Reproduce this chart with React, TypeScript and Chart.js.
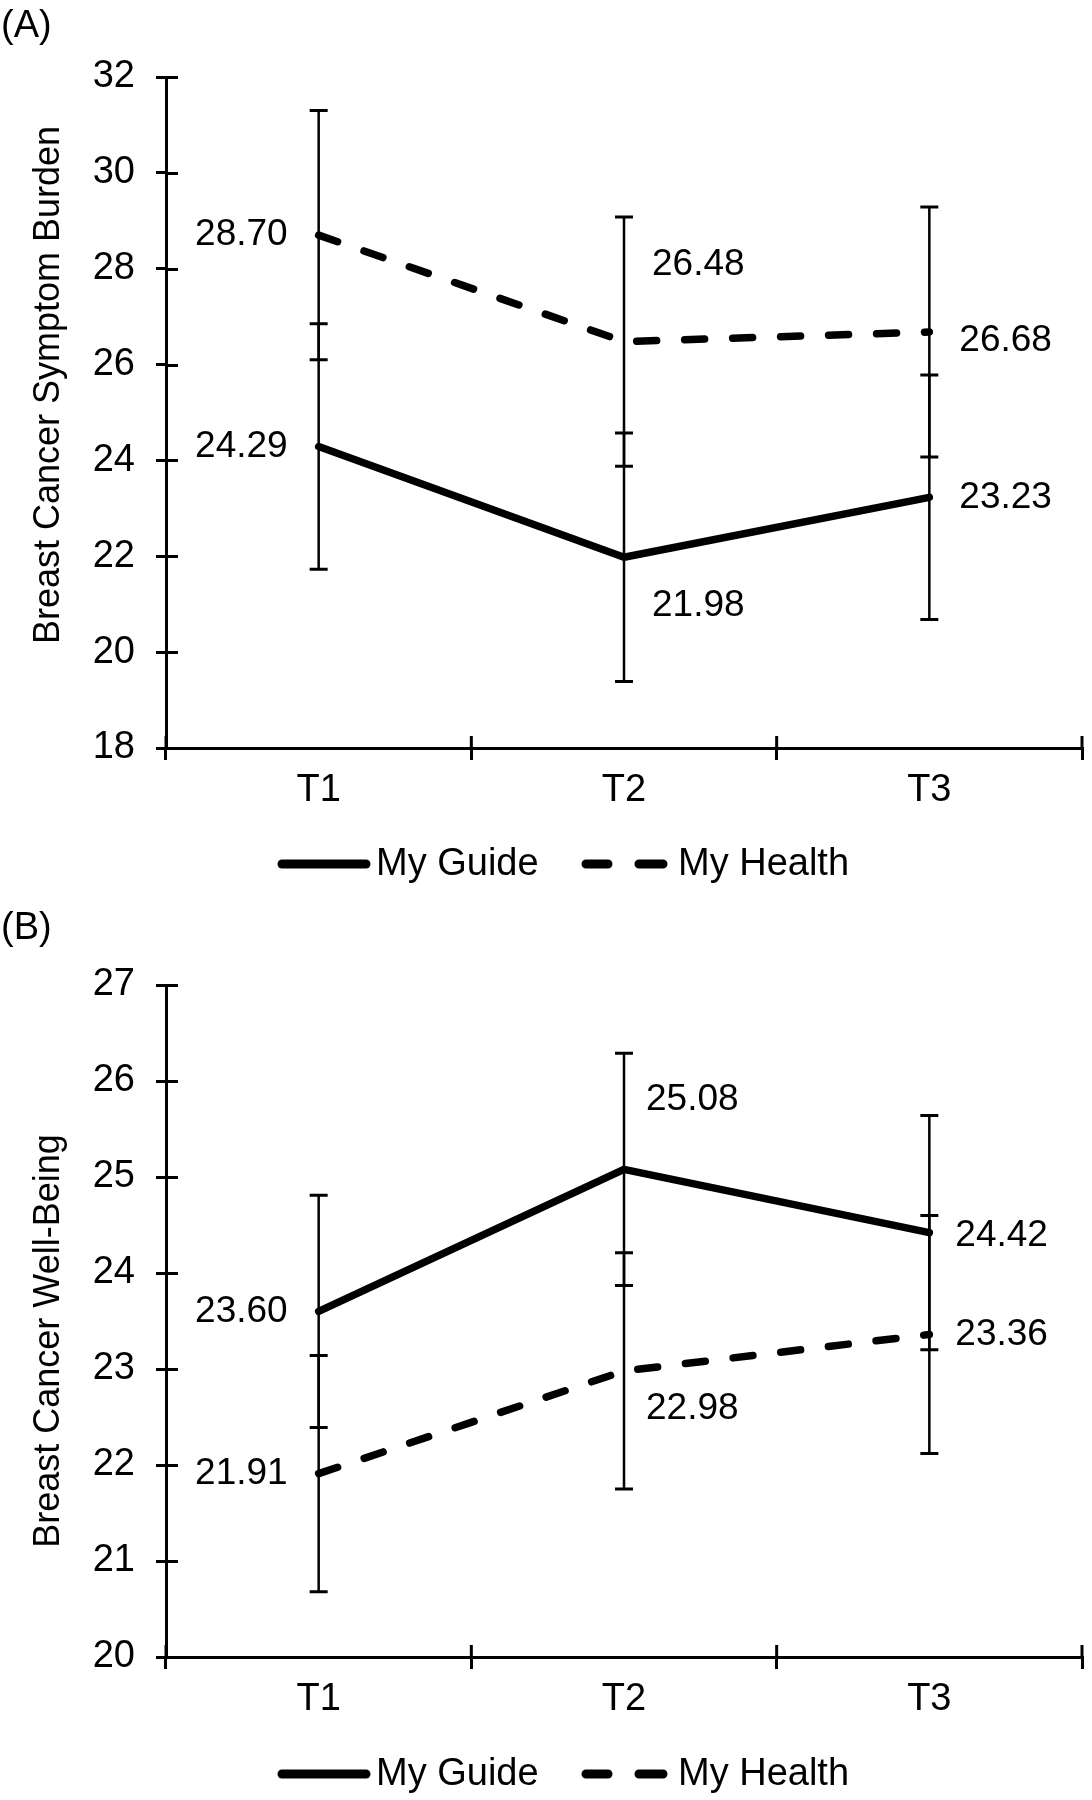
import React, { useEffect, useRef } from 'react';
import { Chart, registerables } from 'chart.js';

Chart.register(...registerables);

// ---------- data ----------
const timePoints = ['T1', 'T2', 'T3'];
const seriesNames = ['My Guide', 'My Health'];

const burdenGuide = [24.29, 21.98, 23.23];
const burdenHealth = [28.7, 26.48, 26.68];
const burdenGuideErr = [2.56, 2.59, 2.55];
const burdenHealthErr = [2.6, 2.6, 2.61];
const burdenTicks = [18, 20, 22, 24, 26, 28, 30, 32];

const wellGuide = [23.6, 25.08, 24.42];
const wellHealth = [21.91, 22.98, 23.36];
const wellGuideErr = [1.21, 1.21, 1.22];
const wellHealthErr = [1.23, 1.23, 1.24];
const wellTicks = [20, 21, 22, 23, 24, 25, 26, 27];

// ---------- styles ----------
const FONT = "'Liberation Sans', Arial, Helvetica, sans-serif";
const FS = 37;
const W = 1092;
const H = 900;

type Place = { dx: number; dy: number; align: CanvasTextAlign };

type Panel = {
  letter: string;
  title: string;
  guide: number[];
  health: number[];
  guideErr: number[];
  healthErr: number[];
  ticks: number[];
  top: number;
  bottom: number;
  letterY: number;
  titleY: number;
  legendY: number;
  guidePlace: Place[];
  healthPlace: Place[];
};

const panels: Panel[] = [
  {
    letter: '(A)',
    title: 'Breast Cancer Symptom Burden',
    guide: burdenGuide,
    health: burdenHealth,
    guideErr: burdenGuideErr,
    healthErr: burdenHealthErr,
    ticks: burdenTicks,
    top: 77,
    bottom: 748,
    letterY: 27,
    titleY: 385,
    legendY: 864,
    guidePlace: [
      { dx: -31, dy: 0, align: 'right' },
      { dx: 28, dy: 49, align: 'left' },
      { dx: 30, dy: 0, align: 'left' },
    ],
    healthPlace: [
      { dx: -31, dy: 0, align: 'right' },
      { dx: 28, dy: -77, align: 'left' },
      { dx: 30, dy: 9, align: 'left' },
    ],
  },
  {
    letter: '(B)',
    title: 'Breast Cancer Well-Being',
    guide: wellGuide,
    health: wellHealth,
    guideErr: wellGuideErr,
    healthErr: wellHealthErr,
    ticks: wellTicks,
    top: 85,
    bottom: 757,
    letterY: 29,
    titleY: 441,
    legendY: 874,
    guidePlace: [
      { dx: -31, dy: 0, align: 'right' },
      { dx: 22, dy: -70, align: 'left' },
      { dx: 26, dy: 3, align: 'left' },
    ],
    healthPlace: [
      { dx: -31, dy: 0, align: 'right' },
      { dx: 22, dy: 38, align: 'left' },
      { dx: 26, dy: 0, align: 'left' },
    ],
  },
];

function makeOverlay(p: Panel) {
  return {
    id: 'overlay',
    afterDatasetsDraw(chart: any) {
      const { ctx, chartArea } = chart;
      const x = chart.scales.x;
      const y = chart.scales.y;
      ctx.save();
      ctx.strokeStyle = '#000';
      ctx.fillStyle = '#000';

      // inward half of the cross tick marks
      ctx.lineWidth = 3;
      ctx.lineCap = 'butt';
      p.ticks.forEach((v) => {
        const py = Math.round(y.getPixelForValue(v)) + 0.5;
        ctx.beginPath();
        ctx.moveTo(chartArea.left, py);
        ctx.lineTo(chartArea.left + 12, py);
        ctx.stroke();
      });
      for (let i = 0; i <= timePoints.length; i++) {
        const px = x.getPixelForValue(i - 0.5);
        ctx.beginPath();
        ctx.moveTo(px, chartArea.bottom);
        ctx.lineTo(px, chartArea.bottom - 12);
        ctx.stroke();
      }

      // error bars
      const series = [
        { vals: p.guide, errs: p.guideErr },
        { vals: p.health, errs: p.healthErr },
      ];
      series.forEach((s) => {
        s.vals.forEach((v, i) => {
          const px = x.getPixelForValue(i);
          const hi = y.getPixelForValue(v + s.errs[i]);
          const lo = y.getPixelForValue(v - s.errs[i]);
          ctx.lineWidth = 2.5;
          ctx.beginPath();
          ctx.moveTo(px, hi);
          ctx.lineTo(px, lo);
          ctx.stroke();
          ctx.lineWidth = 3;
          ctx.beginPath();
          ctx.moveTo(px - 9, hi);
          ctx.lineTo(px + 9, hi);
          ctx.moveTo(px - 9, lo);
          ctx.lineTo(px + 9, lo);
          ctx.stroke();
        });
      });

      // value labels
      ctx.font = `${FS}px ${FONT}`;
      ctx.textBaseline = 'middle';
      const labelSets = [
        { vals: p.guide, place: p.guidePlace },
        { vals: p.health, place: p.healthPlace },
      ];
      labelSets.forEach((s) => {
        s.vals.forEach((v, i) => {
          const pl = s.place[i];
          ctx.textAlign = pl.align;
          ctx.fillText(v.toFixed(2), x.getPixelForValue(i) + pl.dx, y.getPixelForValue(v) + pl.dy);
        });
      });

      // panel letter
      ctx.font = `38px ${FONT}`;
      ctx.textAlign = 'left';
      ctx.fillText(p.letter, 1, p.letterY);

      // y-axis title
      ctx.save();
      ctx.font = `36px ${FONT}`;
      ctx.translate(49, p.titleY);
      ctx.rotate(-Math.PI / 2);
      ctx.textAlign = 'center';
      ctx.fillText(p.title, 0, 0);
      ctx.restore();

      // legend
      const ly = p.legendY;
      ctx.lineWidth = 9;
      ctx.lineCap = 'round';
      ctx.setLineDash([]);
      ctx.beginPath();
      ctx.moveTo(282, ly);
      ctx.lineTo(366, ly);
      ctx.stroke();
      ctx.beginPath();
      ctx.moveTo(586, ly);
      ctx.lineTo(608, ly);
      ctx.moveTo(639, ly);
      ctx.lineTo(663, ly);
      ctx.stroke();
      ctx.font = `38px ${FONT}`;
      ctx.textAlign = 'left';
      ctx.fillText(seriesNames[0], 376, ly + 1);
      ctx.fillText(seriesNames[1], 678, ly + 1);

      ctx.restore();
    },
  };
}

function PanelChart({ p }: { p: Panel }) {
  const ref = useRef<HTMLCanvasElement | null>(null);
  useEffect(() => {
    if (!ref.current) return;
    const tickFont = { family: FONT, size: 38 };
    const chart = new Chart(ref.current, {
      type: 'line',
      data: {
        labels: timePoints,
        datasets: [
          {
            label: seriesNames[0],
            data: p.guide,
            borderColor: '#000',
            backgroundColor: '#000',
            borderWidth: 7.5,
            borderCapStyle: 'round',
            borderJoinStyle: 'round',
            pointRadius: 0,
            tension: 0,
            fill: false,
          },
          {
            label: seriesNames[1],
            data: p.health,
            borderColor: '#000',
            backgroundColor: '#000',
            borderWidth: 7.5,
            borderDash: [20, 28],
            borderCapStyle: 'round',
            borderJoinStyle: 'round',
            pointRadius: 0,
            tension: 0,
            fill: false,
          },
        ],
      },
      options: {
        animation: false,
        responsive: false,
        maintainAspectRatio: false,
        devicePixelRatio: 1,
        layout: { padding: { left: 0, right: 10, top: p.top, bottom: 0 } },
        plugins: { legend: { display: false }, tooltip: { enabled: false } },
        scales: {
          x: {
            type: 'category',
            offset: true,
            grid: {
              offset: true,
              drawOnChartArea: false,
              drawTicks: true,
              tickLength: 12,
              color: '#000',
              lineWidth: 3,
            },
            border: { color: '#000', width: 3 },
            ticks: { color: '#000', font: tickFont, padding: 8, maxRotation: 0 },
            afterFit: (s: any) => {
              s.height = H - p.bottom;
            },
          },
          y: {
            min: p.ticks[0],
            max: p.ticks[p.ticks.length - 1],
            afterBuildTicks: (s: any) => {
              s.ticks = p.ticks.map((v) => ({ value: v }));
            },
            grid: {
              drawOnChartArea: false,
              drawTicks: true,
              tickLength: 10,
              color: '#000',
              lineWidth: 3,
            },
            border: { color: '#000', width: 3 },
            ticks: { color: '#000', font: tickFont, padding: 21 },
            afterFit: (s: any) => {
              s.width = 166;
            },
          },
        },
      } as any,
      plugins: [makeOverlay(p)],
    });
    return () => chart.destroy();
  }, [p]);
  return <canvas ref={ref} width={W} height={H} style={{ width: W, height: H, display: 'block' }} />;
}

export default function App() {
  return (
    <div style={{ position: 'absolute', left: 0, top: 0, width: W, height: H * 2, background: '#fff' }}>
      {panels.map((p) => (
        <PanelChart key={p.letter} p={p} />
      ))}
    </div>
  );
}
